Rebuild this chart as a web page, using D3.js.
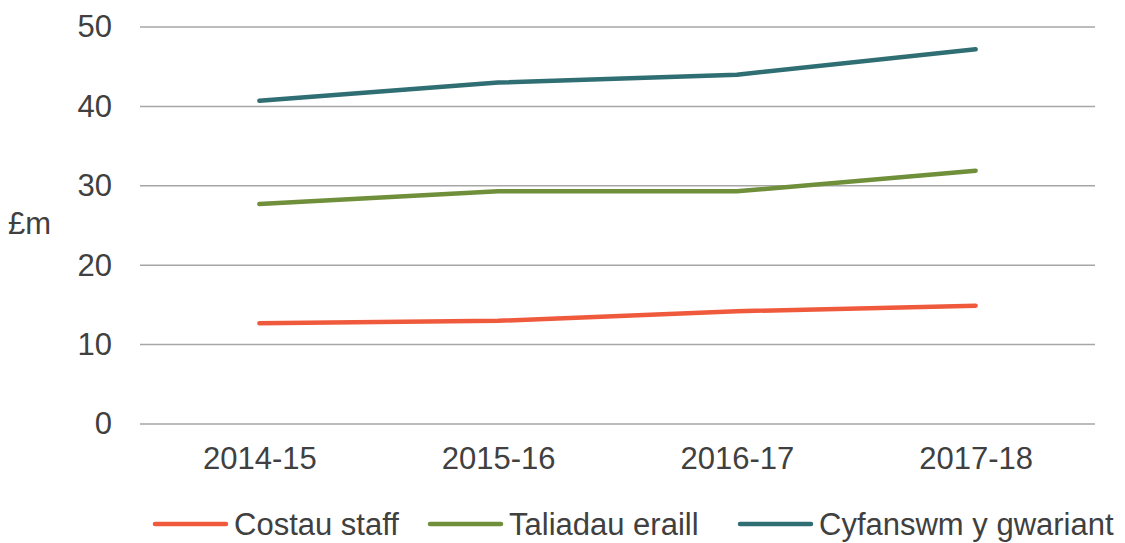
<!DOCTYPE html>
<html>
<head>
<meta charset="utf-8">
<script src="https://cdn.jsdelivr.net/npm/d3@7"></script>
<style>
  body { margin: 0; background: #fff; }
  text { font-family: "Liberation Sans", Arial, sans-serif; fill: #404040; }
</style>
</head>
<body>
<div id="chart"></div>
<script>
// Data
const years = ["2014-15", "2015-16", "2016-17", "2017-18"];
const costauStaff = [12.7, 13.0, 14.2, 14.9];
const taliadauEraill = [27.7, 29.3, 29.3, 31.9];
const cyfanswm = [40.7, 43.0, 44.0, 47.2];
const yTicks = [0, 10, 20, 30, 40, 50];

const seriesNames = ["Costau staff", "Taliadau eraill", "Cyfanswm y gwariant"];
const seriesValues = [costauStaff, taliadauEraill, cyfanswm];
const colors = ["#F05A3C", "#6F8F3A", "#2F6E73"];

const width = 1125, height = 543;
const plotLeft = 140, plotRight = 1095, plotTop = 27, plotBottom = 424;
const fontSize = "31px";

const svg = d3.select("#chart").append("svg")
    .attr("width", width)
    .attr("height", height);

const x = d3.scalePoint().domain(years).range([plotLeft, plotRight]).padding(0.5);
const y = d3.scaleLinear().domain([0, 50]).range([plotBottom, plotTop]);

// Gridlines
svg.append("g")
    .selectAll("line")
    .data(yTicks)
    .join("line")
    .attr("x1", plotLeft)
    .attr("x2", plotRight)
    .attr("y1", d => y(d))
    .attr("y2", d => y(d))
    .attr("stroke", "#a6a6a6")
    .attr("stroke-width", 1.5);

// Y axis labels
const yAxis = svg.append("g")
    .attr("transform", `translate(${plotLeft}, 0)`)
    .call(d3.axisLeft(y).tickValues(yTicks).tickSize(0).tickPadding(28));
yAxis.select(".domain").remove();
yAxis.selectAll("text")
    .attr("font-size", fontSize)
    .attr("font-family", "Liberation Sans, Arial, sans-serif")
    .attr("fill", "#404040");

// X axis labels
const xAxis = svg.append("g")
    .attr("transform", `translate(0, ${plotBottom})`)
    .call(d3.axisBottom(x).tickSize(0).tickPadding(23));
xAxis.select(".domain").remove();
xAxis.selectAll("text")
    .attr("font-size", fontSize)
    .attr("font-family", "Liberation Sans, Arial, sans-serif")
    .attr("fill", "#404040");

// Y axis title
svg.append("text")
    .attr("x", 8)
    .attr("y", 234)
    .attr("font-size", fontSize)
    .text("£m");

// Lines
const line = d3.line()
    .x((d, i) => x(years[i]))
    .y(d => y(d));

seriesValues.forEach((vals, i) => {
    svg.append("path")
        .datum(vals)
        .attr("fill", "none")
        .attr("stroke", colors[i])
        .attr("stroke-width", 4.5)
        .attr("stroke-linecap", "round")
        .attr("stroke-linejoin", "round")
        .attr("d", line);
});

// Legend
const legendX = [155, 430, 740];
seriesNames.forEach((name, i) => {
    const g = svg.append("g").attr("transform", `translate(${legendX[i]}, 524)`);
    g.append("line")
        .attr("x1", 0).attr("x2", 71)
        .attr("y1", 0).attr("y2", 0)
        .attr("stroke", colors[i])
        .attr("stroke-width", 4.5)
        .attr("stroke-linecap", "round");
    g.append("text")
        .attr("x", 79)
        .attr("y", 11)
        .attr("font-size", fontSize)
        .text(name);
});
</script>
</body>
</html>
